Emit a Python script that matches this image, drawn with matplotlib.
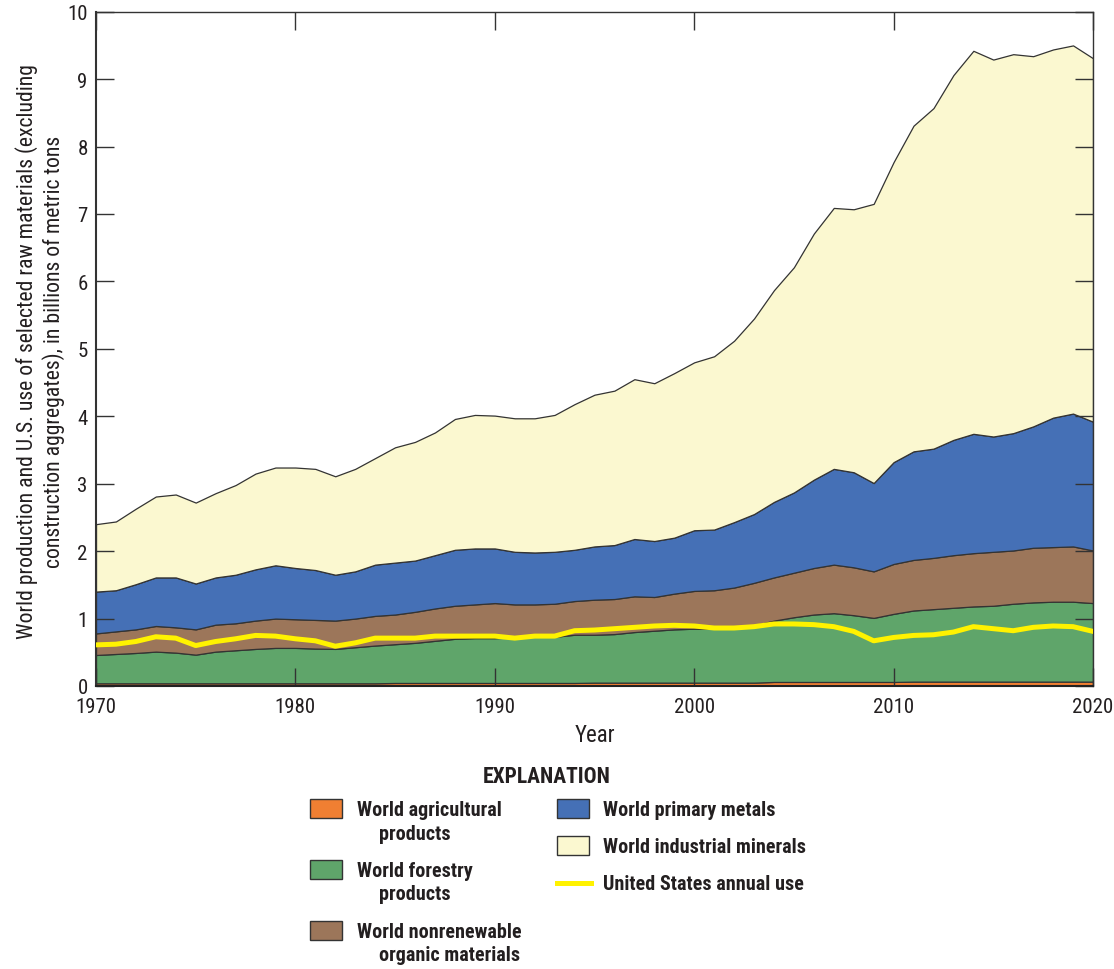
import matplotlib
matplotlib.use("Agg")
import matplotlib.pyplot as plt
import matplotlib.patches as mpatches
import matplotlib.lines as mlines
from matplotlib import font_manager as fm

# pick a condensed sans-serif if one is installed
names = {f.name for f in fm.fontManager.ttflist}
chosen = None
for cand in ['Roboto Condensed', 'Liberation Sans Narrow', 'Open Sans Condensed',
             'Noto Sans Condensed', 'Arial Narrow', 'DejaVu Sans Condensed']:
    if cand in names:
        chosen = cand
        break
if chosen is None:
    alt = sorted(n for n in names if 'Condensed' in n or 'Narrow' in n)
    if alt:
        chosen = alt[0]
if chosen is None:
    chosen = 'DejaVu Sans'
    plt.rcParams['font.stretch'] = 'condensed'
plt.rcParams['font.family'] = [chosen, 'DejaVu Sans']

years = list(range(1970, 2021))

agricultural = [0.04]*15 + [0.045]*10 + [0.05]*9 + [0.06]*7 + [0.065]*10

forestry = [0.42, 0.435, 0.45, 0.47, 0.455, 0.425, 0.47, 0.49, 0.51, 0.525,
            0.525, 0.515, 0.51, 0.535, 0.56, 0.575, 0.595, 0.625, 0.655, 0.665,
            0.665, 0.675, 0.685, 0.685, 0.715, 0.71, 0.72, 0.75, 0.77, 0.79,
            0.80, 0.80, 0.82, 0.85, 0.91, 0.96, 1.00, 1.02, 0.99, 0.95,
            1.01, 1.055, 1.075, 1.095, 1.115, 1.125, 1.155, 1.175, 1.185, 1.185,
            1.165]

nonrenewable = [0.32, 0.335, 0.35, 0.38, 0.375, 0.375, 0.40, 0.40, 0.42, 0.435,
                0.425, 0.425, 0.42, 0.425, 0.44, 0.44, 0.46, 0.48, 0.49, 0.50,
                0.52, 0.49, 0.48, 0.49, 0.50, 0.52, 0.52, 0.53, 0.50, 0.53,
                0.56, 0.57, 0.59, 0.63, 0.64, 0.66, 0.69, 0.72, 0.71, 0.69,
                0.74, 0.75, 0.76, 0.78, 0.79, 0.80, 0.79, 0.81, 0.81, 0.82,
                0.78]

metals = [0.62, 0.61, 0.67, 0.72, 0.74, 0.68, 0.70, 0.72, 0.76, 0.79,
          0.76, 0.74, 0.68, 0.70, 0.76, 0.77, 0.76, 0.79, 0.83, 0.83,
          0.81, 0.78, 0.77, 0.77, 0.76, 0.79, 0.80, 0.85, 0.83, 0.83,
          0.90, 0.90, 0.97, 1.02, 1.12, 1.19, 1.31, 1.42, 1.41, 1.31,
          1.51, 1.61, 1.62, 1.71, 1.77, 1.71, 1.74, 1.80, 1.92, 1.97,
          1.91]

industrial = [1.00, 1.02, 1.12, 1.20, 1.23, 1.20, 1.25, 1.33, 1.42, 1.45,
              1.49, 1.50, 1.46, 1.52, 1.58, 1.71, 1.76, 1.82, 1.94, 1.98,
              1.97, 1.98, 1.99, 2.03, 2.16, 2.25, 2.29, 2.37, 2.34, 2.44,
              2.49, 2.57, 2.69, 2.90, 3.14, 3.34, 3.65, 3.87, 3.90, 4.14,
              4.45, 4.83, 5.05, 5.41, 5.68, 5.59, 5.62, 5.49, 5.46, 5.46,
              5.39]

us_use = [0.61, 0.62, 0.66, 0.73, 0.71, 0.60, 0.66, 0.70, 0.75, 0.74,
          0.70, 0.67, 0.59, 0.64, 0.71, 0.71, 0.71, 0.74, 0.74, 0.74,
          0.74, 0.71, 0.74, 0.74, 0.82, 0.83, 0.85, 0.87, 0.89, 0.90,
          0.89, 0.86, 0.86, 0.88, 0.92, 0.92, 0.91, 0.88, 0.81, 0.67,
          0.72, 0.75, 0.76, 0.80, 0.88, 0.85, 0.82, 0.87, 0.89, 0.88,
          0.81]

labels = ["World agricultural\nproducts", "World forestry\nproducts",
          "World nonrenewable\norganic materials", "World primary metals",
          "World industrial minerals"]
us_label = "United States annual use"
colors = ["#F07F32", "#5FA56A", "#9C765A", "#4570B6", "#FBF8D0"]
us_color = "#FFF200"
edge = "#333333"
txt = "#231f20"

W, H = 1114, 970
fig = plt.figure(figsize=(W/100, H/100), dpi=100)
ax = fig.add_axes([96/W, 1-687/H, (1093-96)/W, (687-12.7)/H])

ax.stackplot(years, agricultural, forestry, nonrenewable, metals, industrial,
             colors=colors, edgecolor=edge, linewidth=0.9)
ax.plot(years, us_use, color=us_color, lw=3.6, solid_joinstyle='round', zorder=5)

ax.set_xlim(1970, 2020)
ax.set_ylim(0, 10)
ax.set_xticks(range(1970, 2021, 10))
ax.set_yticks(range(0, 11))
ax.tick_params(axis='both', direction='in', length=13, width=1.0, color='#333333',
               labelsize=15, labelcolor=txt, top=True, right=True)
ax.tick_params(axis='x', pad=8)
ax.tick_params(axis='y', pad=6)
for s in ax.spines.values():
    s.set_color('#333333')
    s.set_linewidth(1.0)
ax.spines['bottom'].set_linewidth(1.5)
ax.spines['bottom'].set_color('#222222')
ax.spines['left'].set_linewidth(1.5)
ax.spines['bottom'].set_zorder(6)

ax.set_xlabel("Year", fontsize=16.5, color=txt, labelpad=5)
ax.set_ylabel("World production and U.S. use of selected raw materials (excluding\n"
              "construction aggregates), in billions of metric tons",
              fontsize=15.7, color=txt, linespacing=1.22, va='center', ha='center')
ax.yaxis.set_label_coords(-0.0565, 0.497)

def fx(x):
    return x / W

def fy(y):
    return 1 - y / H

LFS = 14.5
fig.text(fx(547), fy(777), "EXPLANATION", fontsize=15.5, fontweight='bold',
         ha='center', va='center', color=txt)

pw, ph = 32, 19
left_entries = [(0, 800), (1, 861), (2, 922)]
for idx, ytop in left_entries:
    fig.patches.append(mpatches.Rectangle((fx(310), fy(ytop + ph)), pw / W, ph / H,
                                          transform=fig.transFigure, facecolor=colors[idx],
                                          edgecolor=edge, linewidth=1.0))
    lines = labels[idx].split("\n")
    fig.text(fx(357), fy(ytop + 11), lines[0], fontsize=LFS, fontweight='bold',
             ha='left', va='center', color=txt)
    fig.text(fx(379), fy(ytop + 34), lines[1], fontsize=LFS, fontweight='bold',
             ha='left', va='center', color=txt)

right_entries = [(3, 800), (4, 837)]
for idx, ytop in right_entries:
    fig.patches.append(mpatches.Rectangle((fx(557), fy(ytop + ph)), pw / W, ph / H,
                                          transform=fig.transFigure, facecolor=colors[idx],
                                          edgecolor=edge, linewidth=1.0))
    fig.text(fx(603), fy(ytop + 11), labels[idx], fontsize=LFS, fontweight='bold',
             ha='left', va='center', color=txt)

fig.lines.append(mlines.Line2D([fx(557), fx(591)], [fy(884), fy(884)],
                               transform=fig.transFigure, color=us_color, lw=3.6))
fig.text(fx(603), fy(885), us_label, fontsize=LFS, fontweight='bold',
         ha='left', va='center', color=txt)

fig.savefig("out.png", dpi=100)
